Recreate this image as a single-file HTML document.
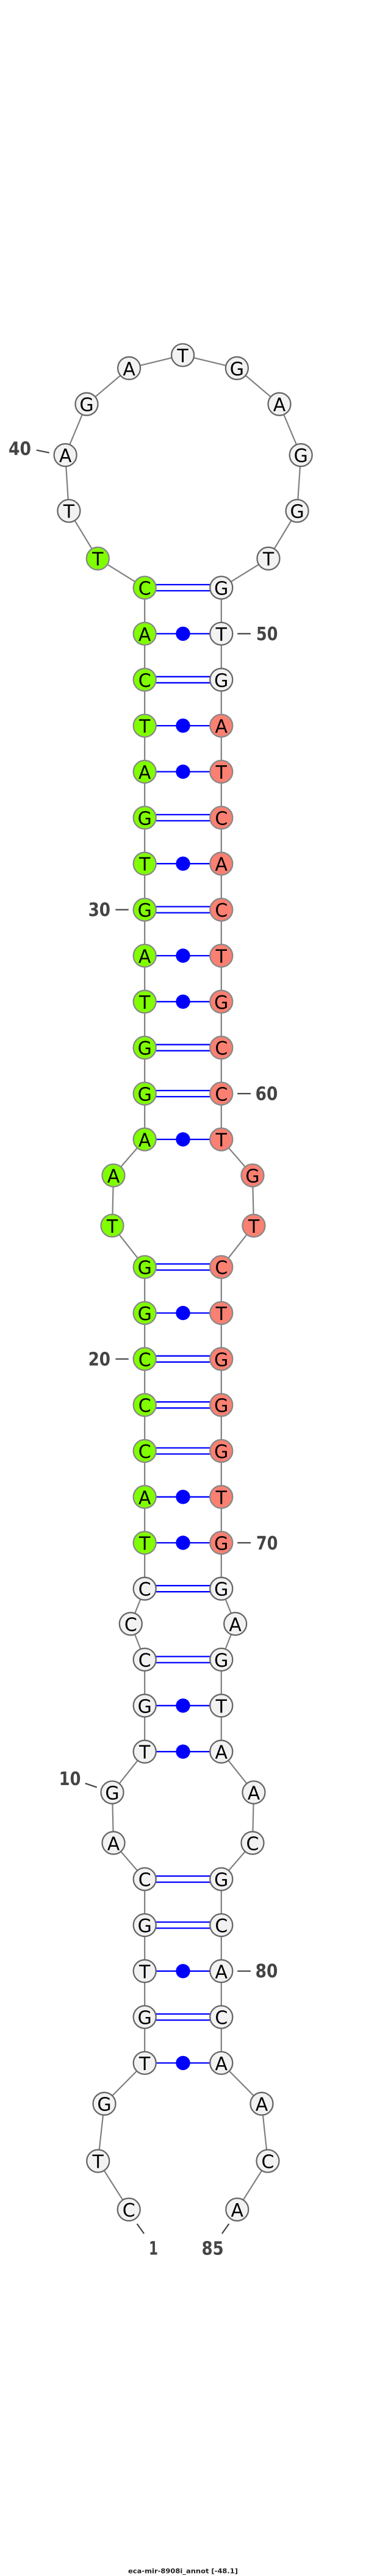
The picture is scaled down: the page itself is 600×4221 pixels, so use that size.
<!DOCTYPE html>
<html><head><meta charset="utf-8"><style>
html,body{margin:0;padding:0;background:#fff;width:600px;height:4221px;overflow:hidden}
svg{display:block}
.b{fill:none;stroke:#808080;stroke-width:2.2}
.p{stroke:#0000ff;stroke-width:2.3}
.t{stroke:#444;stroke-width:2.2}
circle.w{fill:#f2f2f2;stroke:#666;stroke-width:2.3}
circle.g{fill:#80ff00;stroke:#888;stroke-width:2.3}
circle.s{fill:#fa8072;stroke:#888;stroke-width:2.3}
circle.d{fill:#0000ff}
.n text{font-family:"DejaVu Sans",sans-serif;font-size:30px;text-anchor:middle;fill:#000}
.l{font-family:"DejaVu Sans",sans-serif;font-weight:bold;font-size:30px;fill:#444}
.h{font-family:"DejaVu Sans",sans-serif;font-weight:bold;font-size:10.5px;fill:#222}
</style></head><body>
<svg width="600" height="4221" viewBox="0 0 600 4221" xmlns="http://www.w3.org/2000/svg">
<polyline class="b" points="211.2,3620.5 160.7,3541 171,3447.2 237.2,3380.4 237.2,3305.1 237.2,3229.8 237.2,3154.5 237.2,3079.1 186,3019.8 184,2937 237.2,2870.2 237.2,2794.8 237.2,2719.4 214.3,2660.8 237.2,2603.2 237.2,2528 237.2,2452.8 237.2,2377.5 237.2,2302.2 237.2,2226.8 237.2,2151.5 237.2,2076.1 184,2008.4 186,1926 237.2,1867 237.2,1792 237.2,1716.7 237.2,1641.3 237.2,1566 237.2,1490.6 237.2,1415.2 237.2,1339.9 237.2,1264.5 237.2,1189.1 237.2,1113.8 237.2,1038.4 237.2,963 160.3,915.2 112.9,837.1 107.1,745.7 142,662.2 211.6,603.3 299.6,581.9 388.4,603.3 458,662.2 493.2,745.7 487.1,837.1 440,915.2 362.8,963 362.8,1038.4 362.8,1113.8 362.8,1189.1 362.8,1264.5 362.8,1339.9 362.8,1415.2 362.8,1490.6 362.8,1566 362.8,1641.3 362.8,1716.7 362.8,1792 362.8,1867 414,1926 416,2008.4 362.8,2076.1 362.8,2151.5 362.8,2226.8 362.8,2302.2 362.8,2377.5 362.8,2452.8 362.8,2528 362.8,2603.2 385.7,2660.8 362.8,2719.4 362.8,2794.8 362.8,2870.2 416,2937 414,3019.8 362.8,3079.1 362.8,3154.5 362.8,3229.8 362.8,3305.1 362.8,3380.4 429,3447.2 439,3541 388.8,3620.5"/>
<g class="p">
<path fill="none" d="M237 958H363M237 968H363M237 1108.8H363M237 1118.8H363M237 1334.9H363M237 1344.9H363M237 1485.6H363M237 1495.6H363M237 1711.7H363M237 1721.7H363M237 1787H363M237 1797H363M237 2071.1H363M237 2081.1H363M237 2221.8H363M237 2231.8H363M237 2297.2H363M237 2307.2H363M237 2372.5H363M237 2382.5H363M237 2598.2H363M237 2608.2H363M237 2714.4H363M237 2724.4H363M237 3074.1H363M237 3084.1H363M237 3149.5H363M237 3159.5H363M237 3300.1H363M237 3310.1H363M237 1038.4H363M237 1189.1H363M237 1264.5H363M237 1415.2H363M237 1566H363M237 1641.3H363M237 1867H363M237 2151.5H363M237 2452.8H363M237 2528H363M237 2794.8H363M237 2870.2H363M237 3229.8H363M237 3380.4H363"/>
</g>
<g>
<circle class="d" cx="300" cy="1038.4" r="11.7"/><circle class="d" cx="300" cy="1189.1" r="11.7"/><circle class="d" cx="300" cy="1264.5" r="11.7"/><circle class="d" cx="300" cy="1415.2" r="11.7"/><circle class="d" cx="300" cy="1566" r="11.7"/><circle class="d" cx="300" cy="1641.3" r="11.7"/><circle class="d" cx="300" cy="1867" r="11.7"/><circle class="d" cx="300" cy="2151.5" r="11.7"/><circle class="d" cx="300" cy="2452.8" r="11.7"/><circle class="d" cx="300" cy="2528" r="11.7"/><circle class="d" cx="300" cy="2794.8" r="11.7"/><circle class="d" cx="300" cy="2870.2" r="11.7"/><circle class="d" cx="300" cy="3229.8" r="11.7"/><circle class="d" cx="300" cy="3380.4" r="11.7"/>
</g>
<g class="n">
<circle class="w" cx="299.6" cy="581.9" r="18.5"/><text x="299.6" y="593.4">T</text>
<circle class="w" cx="211.6" cy="603.3" r="18.5"/><text x="211.6" y="614.8">A</text>
<circle class="w" cx="388.4" cy="603.3" r="18.5"/><text x="388.4" y="614.8">G</text>
<circle class="w" cx="142" cy="662.2" r="18.5"/><text x="142" y="673.7">G</text>
<circle class="w" cx="458" cy="662.2" r="18.5"/><text x="458" y="673.7">A</text>
<circle class="w" cx="107.1" cy="745.7" r="18.5"/><text x="107.1" y="757.2">A</text>
<circle class="w" cx="493.2" cy="745.7" r="18.5"/><text x="493.2" y="757.2">G</text>
<circle class="w" cx="112.9" cy="837.1" r="18.5"/><text x="112.9" y="848.6">T</text>
<circle class="w" cx="487.1" cy="837.1" r="18.5"/><text x="487.1" y="848.6">G</text>
<circle class="g" cx="160.3" cy="915.2" r="18.5"/><text x="160.3" y="926.7">T</text>
<circle class="w" cx="440" cy="915.2" r="18.5"/><text x="440" y="926.7">T</text>

<circle class="g" cx="237.2" cy="963" r="18.5"/><text x="237.2" y="974.5">C</text>
<circle class="w" cx="362.8" cy="963" r="18.5"/><text x="362.8" y="974.5">G</text>
<circle class="g" cx="237.2" cy="1038.4" r="18.5"/><text x="237.2" y="1049.9">A</text>
<circle class="w" cx="362.8" cy="1038.4" r="18.5"/><text x="362.8" y="1049.9">T</text>
<circle class="g" cx="237.2" cy="1113.8" r="18.5"/><text x="237.2" y="1125.3">C</text>
<circle class="w" cx="362.8" cy="1113.8" r="18.5"/><text x="362.8" y="1125.3">G</text>
<circle class="g" cx="237.2" cy="1189.1" r="18.5"/><text x="237.2" y="1200.6">T</text>
<circle class="s" cx="362.8" cy="1189.1" r="18.5"/><text x="362.8" y="1200.6">A</text>
<circle class="g" cx="237.2" cy="1264.5" r="18.5"/><text x="237.2" y="1276">A</text>
<circle class="s" cx="362.8" cy="1264.5" r="18.5"/><text x="362.8" y="1276">T</text>
<circle class="g" cx="237.2" cy="1339.9" r="18.5"/><text x="237.2" y="1351.4">G</text>
<circle class="s" cx="362.8" cy="1339.9" r="18.5"/><text x="362.8" y="1351.4">C</text>
<circle class="g" cx="237.2" cy="1415.2" r="18.5"/><text x="237.2" y="1426.7">T</text>
<circle class="s" cx="362.8" cy="1415.2" r="18.5"/><text x="362.8" y="1426.7">A</text>
<circle class="g" cx="237.2" cy="1490.6" r="18.5"/><text x="237.2" y="1502.1">G</text>
<circle class="s" cx="362.8" cy="1490.6" r="18.5"/><text x="362.8" y="1502.1">C</text>
<circle class="g" cx="237.2" cy="1566" r="18.5"/><text x="237.2" y="1577.5">A</text>
<circle class="s" cx="362.8" cy="1566" r="18.5"/><text x="362.8" y="1577.5">T</text>
<circle class="g" cx="237.2" cy="1641.3" r="18.5"/><text x="237.2" y="1652.8">T</text>
<circle class="s" cx="362.8" cy="1641.3" r="18.5"/><text x="362.8" y="1652.8">G</text>
<circle class="g" cx="237.2" cy="1716.7" r="18.5"/><text x="237.2" y="1728.2">G</text>
<circle class="s" cx="362.8" cy="1716.7" r="18.5"/><text x="362.8" y="1728.2">C</text>
<circle class="g" cx="237.2" cy="1792" r="18.5"/><text x="237.2" y="1803.5">G</text>
<circle class="s" cx="362.8" cy="1792" r="18.5"/><text x="362.8" y="1803.5">C</text>
<circle class="g" cx="237.2" cy="1867" r="18.5"/><text x="237.2" y="1878.5">A</text>
<circle class="s" cx="362.8" cy="1867" r="18.5"/><text x="362.8" y="1878.5">T</text>

<circle class="g" cx="186" cy="1926" r="18.5"/><text x="186" y="1937.5">A</text>
<circle class="s" cx="414" cy="1926" r="18.5"/><text x="414" y="1937.5">G</text>
<circle class="g" cx="184" cy="2008.4" r="18.5"/><text x="184" y="2019.9">T</text>
<circle class="s" cx="416" cy="2008.4" r="18.5"/><text x="416" y="2019.9">T</text>

<circle class="g" cx="237.2" cy="2076.1" r="18.5"/><text x="237.2" y="2087.6">G</text>
<circle class="s" cx="362.8" cy="2076.1" r="18.5"/><text x="362.8" y="2087.6">C</text>
<circle class="g" cx="237.2" cy="2151.5" r="18.5"/><text x="237.2" y="2163">G</text>
<circle class="s" cx="362.8" cy="2151.5" r="18.5"/><text x="362.8" y="2163">T</text>
<circle class="g" cx="237.2" cy="2226.8" r="18.5"/><text x="237.2" y="2238.3">C</text>
<circle class="s" cx="362.8" cy="2226.8" r="18.5"/><text x="362.8" y="2238.3">G</text>
<circle class="g" cx="237.2" cy="2302.2" r="18.5"/><text x="237.2" y="2313.7">C</text>
<circle class="s" cx="362.8" cy="2302.2" r="18.5"/><text x="362.8" y="2313.7">G</text>
<circle class="g" cx="237.2" cy="2377.5" r="18.5"/><text x="237.2" y="2389">C</text>
<circle class="s" cx="362.8" cy="2377.5" r="18.5"/><text x="362.8" y="2389">G</text>
<circle class="g" cx="237.2" cy="2452.8" r="18.5"/><text x="237.2" y="2464.3">A</text>
<circle class="s" cx="362.8" cy="2452.8" r="18.5"/><text x="362.8" y="2464.3">T</text>
<circle class="g" cx="237.2" cy="2528" r="18.5"/><text x="237.2" y="2539.5">T</text>
<circle class="s" cx="362.8" cy="2528" r="18.5"/><text x="362.8" y="2539.5">G</text>
<circle class="w" cx="237.2" cy="2603.2" r="18.5"/><text x="237.2" y="2614.7">C</text>
<circle class="w" cx="362.8" cy="2603.2" r="18.5"/><text x="362.8" y="2614.7">G</text>

<circle class="w" cx="214.3" cy="2660.8" r="18.5"/><text x="214.3" y="2672.3">C</text>
<circle class="w" cx="385.7" cy="2660.8" r="18.5"/><text x="385.7" y="2672.3">A</text>

<circle class="w" cx="237.2" cy="2719.4" r="18.5"/><text x="237.2" y="2730.9">C</text>
<circle class="w" cx="362.8" cy="2719.4" r="18.5"/><text x="362.8" y="2730.9">G</text>
<circle class="w" cx="237.2" cy="2794.8" r="18.5"/><text x="237.2" y="2806.3">G</text>
<circle class="w" cx="362.8" cy="2794.8" r="18.5"/><text x="362.8" y="2806.3">T</text>
<circle class="w" cx="237.2" cy="2870.2" r="18.5"/><text x="237.2" y="2881.7">T</text>
<circle class="w" cx="362.8" cy="2870.2" r="18.5"/><text x="362.8" y="2881.7">A</text>

<circle class="w" cx="184" cy="2937" r="18.5"/><text x="184" y="2948.5">G</text>
<circle class="w" cx="416" cy="2937" r="18.5"/><text x="416" y="2948.5">A</text>
<circle class="w" cx="186" cy="3019.8" r="18.5"/><text x="186" y="3031.3">A</text>
<circle class="w" cx="414" cy="3019.8" r="18.5"/><text x="414" y="3031.3">C</text>

<circle class="w" cx="237.2" cy="3079.1" r="18.5"/><text x="237.2" y="3090.6">C</text>
<circle class="w" cx="362.8" cy="3079.1" r="18.5"/><text x="362.8" y="3090.6">G</text>
<circle class="w" cx="237.2" cy="3154.5" r="18.5"/><text x="237.2" y="3166">G</text>
<circle class="w" cx="362.8" cy="3154.5" r="18.5"/><text x="362.8" y="3166">C</text>
<circle class="w" cx="237.2" cy="3229.8" r="18.5"/><text x="237.2" y="3241.3">T</text>
<circle class="w" cx="362.8" cy="3229.8" r="18.5"/><text x="362.8" y="3241.3">A</text>
<circle class="w" cx="237.2" cy="3305.1" r="18.5"/><text x="237.2" y="3316.6">G</text>
<circle class="w" cx="362.8" cy="3305.1" r="18.5"/><text x="362.8" y="3316.6">C</text>
<circle class="w" cx="237.2" cy="3380.4" r="18.5"/><text x="237.2" y="3391.9">T</text>
<circle class="w" cx="362.8" cy="3380.4" r="18.5"/><text x="362.8" y="3391.9">A</text>

<circle class="w" cx="171" cy="3447.2" r="18.5"/><text x="171" y="3458.7">G</text>
<circle class="w" cx="429" cy="3447.2" r="18.5"/><text x="429" y="3458.7">A</text>
<circle class="w" cx="160.7" cy="3541" r="18.5"/><text x="160.7" y="3552.5">T</text>
<circle class="w" cx="439" cy="3541" r="18.5"/><text x="439" y="3552.5">C</text>
<circle class="w" cx="211.2" cy="3620.5" r="18.5"/><text x="211.2" y="3632">C</text>
<circle class="w" cx="388.8" cy="3620.5" r="18.5"/><text x="388.8" y="3632">A</text>
</g>
<g class="t">
<path fill="none" d="M59.7 737.6L80.7 741.8M389.2 1038.4H411M189.4 1490.6H210.8M389.2 1792H411M189.4 2226.8H210.8M389.2 2528H411M139.7 2922.2L158.8 2928.7M389.2 3229.8H411M224.6 3643.9L236.1 3660M375.4 3643.9L363.9 3660"/>
</g>
<text class="l" x="14" y="745.7" textLength="37" lengthAdjust="spacingAndGlyphs">40</text>
<text class="l" x="420" y="1049.1" textLength="35.4" lengthAdjust="spacingAndGlyphs">50</text>
<text class="l" x="144.6" y="1501" textLength="36.4" lengthAdjust="spacingAndGlyphs">30</text>
<text class="l" x="418.6" y="1802.5" textLength="36.8" lengthAdjust="spacingAndGlyphs">60</text>
<text class="l" x="144.6" y="2237.6" textLength="36.4" lengthAdjust="spacingAndGlyphs">20</text>
<text class="l" x="420" y="2539" textLength="35.4" lengthAdjust="spacingAndGlyphs">70</text>
<text class="l" x="96.8" y="2924.9" textLength="35.6" lengthAdjust="spacingAndGlyphs">10</text>
<text class="l" x="418.6" y="3240.2" textLength="36.8" lengthAdjust="spacingAndGlyphs">80</text>
<text class="l" x="244" y="3694.5" textLength="15" lengthAdjust="spacingAndGlyphs">1</text>
<text class="l" x="330.6" y="3694.5" textLength="36" lengthAdjust="spacingAndGlyphs">85</text>
<text class="h" x="210" y="4216.7" textLength="180" lengthAdjust="spacingAndGlyphs">eca-mir-8908i_annot [-48.1]</text>
</svg>
</body></html>
